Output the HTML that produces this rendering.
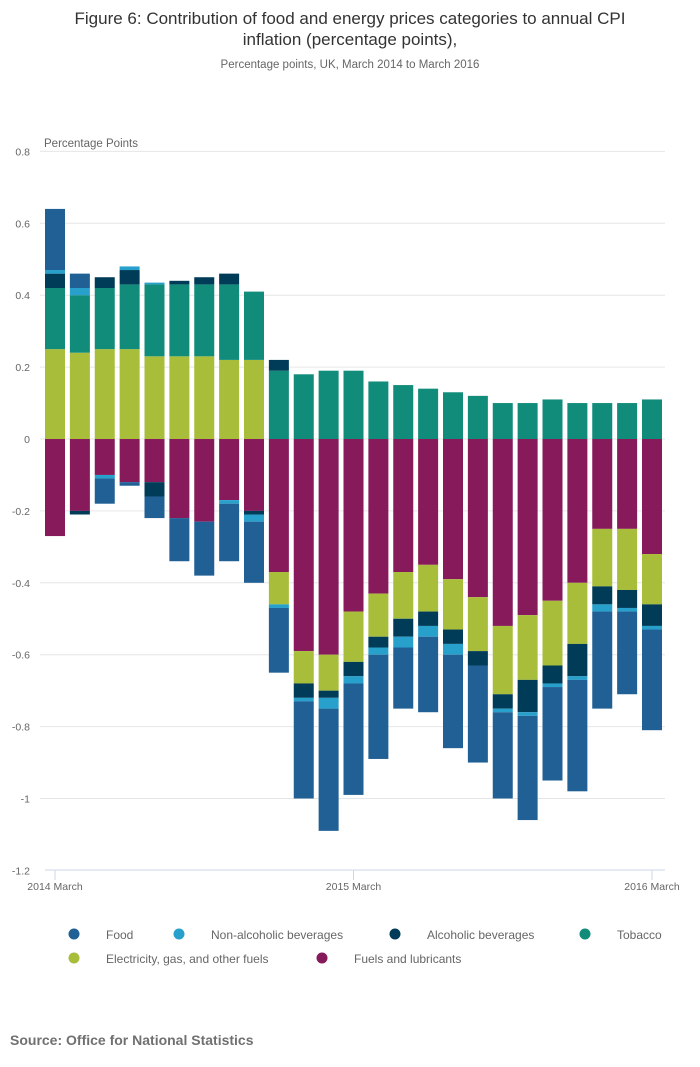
<!DOCTYPE html>
<html><head><meta charset="utf-8"><style>
body{margin:0;background:#fff;font-family:"Liberation Sans",sans-serif;}
svg{display:block}
</style></head><body>
<svg id="chart" width="700" height="1067" xmlns="http://www.w3.org/2000/svg">
<text x="350" y="24" text-anchor="middle" font-size="17" fill="#333">Figure 6: Contribution of food and energy prices categories to annual CPI</text>
<text x="350" y="45" text-anchor="middle" font-size="17" fill="#333">inflation (percentage points),</text>
<text x="350" y="68" text-anchor="middle" font-size="11.5" fill="#666">Percentage points, UK, March 2014 to March 2016</text>
<text x="44" y="147" font-size="11.5" fill="#666">Percentage Points</text>
<g id="grid"></g><g id="bars"></g><g id="axis"></g><g id="legend"></g>
<text x="10" y="1045" font-size="14" font-weight="bold" fill="#707070">Source: Office for National Statistics</text>
</svg>
<script>
const categories = ["2014-03","2014-04","2014-05","2014-06","2014-07","2014-08","2014-09","2014-10","2014-11","2014-12","2015-01","2015-02","2015-03","2015-04","2015-05","2015-06","2015-07","2015-08","2015-09","2015-10","2015-11","2015-12","2016-01","2016-02","2016-03"];
const fuels = [-0.27,-0.20,-0.10,-0.12,-0.12,-0.22,-0.23,-0.17,-0.20,-0.37,-0.59,-0.60,-0.48,-0.43,-0.37,-0.35,-0.39,-0.44,-0.52,-0.49,-0.45,-0.40,-0.25,-0.25,-0.32];
const electricity = [0.25,0.24,0.25,0.25,0.23,0.23,0.23,0.22,0.22,-0.09,-0.09,-0.10,-0.14,-0.12,-0.13,-0.13,-0.14,-0.15,-0.19,-0.18,-0.18,-0.17,-0.16,-0.17,-0.14];
const tobacco = [0.17,0.16,0.17,0.18,0.20,0.20,0.20,0.21,0.19,0.19,0.18,0.19,0.19,0.16,0.15,0.14,0.13,0.12,0.10,0.10,0.11,0.10,0.10,0.10,0.11];
const alcohol = [0.04,-0.01,0.03,0.04,-0.04,0.01,0.02,0.03,-0.01,0.03,-0.04,-0.02,-0.04,-0.03,-0.05,-0.04,-0.04,-0.04,-0.04,-0.09,-0.05,-0.09,-0.05,-0.05,-0.06];
const nonAlcoholic = [0.01,0.02,-0.01,0.01,0.005,0,0,-0.01,-0.02,-0.01,-0.01,-0.03,-0.02,-0.02,-0.03,-0.03,-0.03,0,-0.01,-0.01,-0.01,-0.01,-0.02,-0.01,-0.01];
const food = [0.17,0.04,-0.07,-0.01,-0.06,-0.12,-0.15,-0.16,-0.17,-0.18,-0.27,-0.34,-0.31,-0.29,-0.17,-0.21,-0.26,-0.27,-0.24,-0.29,-0.26,-0.31,-0.27,-0.23,-0.28];
const yTicks = [0.8,0.6,0.4,0.2,0,-0.2,-0.4,-0.6,-0.8,-1,-1.2];
const xTickLabels = [[0,"2014 March"],[12,"2015 March"],[24,"2016 March"]];
const series = [
 ["fuels-and-lubricants","Fuels and lubricants",fuels,"#871a5b"],
 ["electricity-gas","Electricity, gas, and other fuels",electricity,"#a8bd3a"],
 ["tobacco","Tobacco",tobacco,"#118c7b"],
 ["alcoholic-beverages","Alcoholic beverages",alcohol,"#003c57"],
 ["non-alcoholic-beverages","Non-alcoholic beverages",nonAlcoholic,"#27a0cc"],
 ["food","Food",food,"#206095"]];
const NS="http://www.w3.org/2000/svg";
function y(v){return 439-v*359.5;}
function x(i){return 55+i*24.875;}
function mk(tag,attrs,parent){const e=document.createElementNS(NS,tag);for(const k in attrs)e.setAttribute(k,attrs[k]);parent.appendChild(e);return e;}
const grid=document.getElementById('grid');
yTicks.forEach(t=>{
 if(t!==-1.2){const l=mk('line',{x1:40,x2:665,y1:y(t),y2:y(t),stroke:'#e6e6e6','stroke-width':1},grid);
 
 }
 const tx=mk('text',{x:30,y:y(t)+4,'text-anchor':'end','font-size':10.5,fill:'#666'},grid);
 tx.textContent=String(t);
 
 
});
const bars=document.getElementById('bars');
categories.forEach((c,i)=>{
 let pos=0,neg=0;
 series.forEach(s=>{
  const v=s[2][i]; if(!v)return;
  let top,bot;
  if(v>0){bot=pos;top=pos+v;pos=top;}else{top=neg;bot=neg+v;neg=bot;}
  const r=mk('rect',{x:x(i)-10,width:20,y:y(top),height:y(bot)-y(top),fill:s[3]},bars);
  
  
 });
});
const axis=document.getElementById('axis');
const al=mk('line',{x1:45,x2:665,y1:870,y2:870,stroke:'#ccd6eb'},axis);


xTickLabels.forEach(([i,lab])=>{
 const tk=mk('line',{x1:x(i),x2:x(i),y1:870,y2:880,stroke:'#ccd6eb'},axis);
 
 
 const t=mk('text',{x:x(i),y:890,'text-anchor':'middle','font-size':10.5,fill:'#666'},axis);
 t.textContent=lab;
 
 
});
const legend=document.getElementById('legend');
const legendItems=[["food",74,935],["non-alcoholic-beverages",179,935],["alcoholic-beverages",395,935],["tobacco",585,935],["electricity-gas",74,959],["fuels-and-lubricants",322,959]];
legendItems.forEach(([key,lx,ly])=>{
 const s=series.find(z=>z[0]===key);
 const g=mk('g',{},legend);
 
 
 mk('circle',{cx:lx,cy:ly-1,r:5.5,fill:s[3]},g);
 const t=mk('text',{x:lx+32,y:ly+4,'font-size':12,fill:'#666'},g);
 t.textContent=s[1];
});
</script>
</body></html>
